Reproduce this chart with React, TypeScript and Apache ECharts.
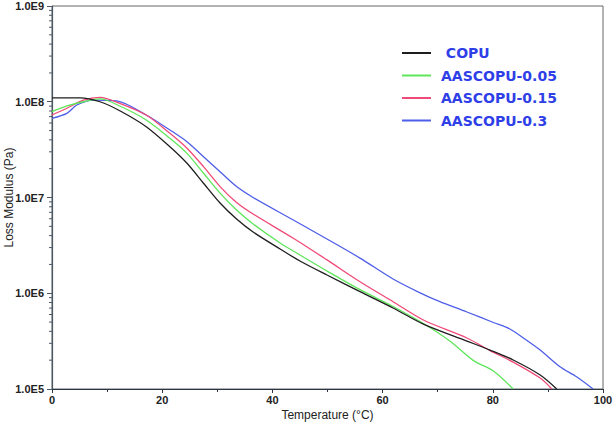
import React, { useEffect, useRef } from "react";
import * as echarts from "echarts";

// Temperature (°C) and loss modulus (Pa)
const copuT = [0, 5.1, 8.7, 12.3, 17.1, 21.4, 24.5, 27.5, 30.5, 33.5, 36.5, 41.4, 45.0, 49.9, 55.9, 61.9, 67.4, 75.3, 79.5, 83.7, 88.6, 91.6];
const copuV = [1.1e8, 1.1e8, 1.0e8, 8.06e7, 5.49e7, 3.39e7, 2.28e7, 1.41e7, 8.76e6, 5.96e6, 4.36e6, 2.9e6, 2.17e6, 1.55e6, 1.04e6, 7.02e5, 4.77e5, 3.17e5, 2.55e5, 2.01e5, 1.4e5, 1.0e5];

const a005T = [0, 2.7, 5.7, 8.7, 12.3, 17.1, 21.4, 24.5, 27.5, 30.5, 33.5, 36.5, 41.4, 45.0, 49.9, 55.9, 61.9, 67.4, 72.2, 76.5, 80.1, 83.7];
const a005V = [7.87e7, 9.03e7, 1.0e8, 1.07e8, 9.03e7, 6.45e7, 4.15e7, 2.89e7, 1.79e7, 1.11e7, 7.4e6, 5.29e6, 3.35e6, 2.51e6, 1.71e6, 1.09e6, 7.27e5, 4.83e5, 3.17e5, 1.98e5, 1.54e5, 1.0e5];

const a015T = [0, 2.7, 5.7, 8.7, 12.3, 17.1, 21.4, 24.5, 27.5, 30.5, 33.5, 36.5, 43.8, 49.9, 55.9, 61.9, 67.4, 75.3, 79.5, 83.7, 88.6, 90.7];
const a015V = [7.27e7, 8.55e7, 1.04e8, 1.11e8, 9.63e7, 7.27e7, 4.68e7, 3.27e7, 2.1e7, 1.3e7, 8.87e6, 6.72e6, 3.75e6, 2.23e6, 1.32e6, 8.16e5, 5.26e5, 3.41e5, 2.52e5, 1.91e5, 1.3e5, 1.0e5];

const a03T = [0, 2.7, 4.5, 7.5, 11.7, 17.1, 21.4, 24.5, 27.5, 30.5, 33.5, 36.5, 43.8, 49.9, 55.9, 61.9, 66.8, 70.4, 75.3, 80.1, 83.1, 85.8, 88.6, 92.2, 95.2, 98.2];
const a03V = [6.72e7, 7.57e7, 9.25e7, 1.04e8, 1.02e8, 7.27e7, 5.07e7, 3.83e7, 2.67e7, 1.86e7, 1.3e7, 1.0e7, 5.82e6, 3.69e6, 2.33e6, 1.41e6, 1.01e6, 8.16e5, 6.37e5, 4.95e5, 4.23e5, 3.33e5, 2.55e5, 1.71e5, 1.34e5, 1.0e5];

const seriesNames = ["COPU", "AASCOPU-0.05", "AASCOPU-0.15", "AASCOPU-0.3"];
const seriesColors = ["#1e1e1e", "#5ee65a", "#f04a78", "#4e5ee8"];

const xTicks = [0, 20, 40, 60, 80, 100];
const yMinorTicks: number[] = [];
for (let e = 5; e < 9; e++) {
  for (let m = 2; m <= 9; m++) yMinorTicks.push(m * Math.pow(10, e));
}

const zip = (t: number[], v: number[]) => t.map((x, i) => [x, v[i]]);

export default function App() {
  const ref = useRef<HTMLDivElement>(null);
  useEffect(() => {
    if (!ref.current) return;
    const chart = echarts.init(ref.current, undefined, { renderer: "svg" });
    const datasets = [zip(copuT, copuV), zip(a005T, a005V), zip(a015T, a015V), zip(a03T, a03V)];
    const axisFont = { fontFamily: "Liberation Sans", fontSize: 11, fontWeight: "bold" as const, color: "#222" };
    chart.setOption({
      animation: false,
      backgroundColor: "#fff",
      grid: {
        left: 52,
        right: 11,
        top: 6,
        bottom: 36,
        containLabel: false,
        outerBoundsMode: "none",
        show: true,
        borderColor: "#666",
        borderWidth: 1,
      },
      legend: {
        data: seriesNames,
        orient: "vertical",
        left: 397,
        top: 41,
        icon: "rect",
        itemWidth: 29,
        itemHeight: 2,
        itemGap: 8.5,
        formatter: (n: string) => (n === "COPU" ? " COPU" : n),
        textStyle: {
          fontFamily: "DejaVu Sans",
          fontSize: 14,
          fontWeight: "bold",
          color: "#2f3fe8",
          padding: [0, 0, 0, 5],
        },
      },
      xAxis: {
        type: "value",
        min: xTicks[0],
        max: xTicks[xTicks.length - 1],
        interval: 20,
        name: "Temperature (°C)",
        nameLocation: "middle",
        nameGap: 20,
        nameMoveOverlap: false,
        nameTextStyle: { fontFamily: "Liberation Sans", fontSize: 12, color: "#222" },
        axisLine: { lineStyle: { color: "#2a3644", width: 1.2 } },
        axisTick: { show: true, length: 4, lineStyle: { color: "#2a3644" } },
        minorTick: { show: true, splitNumber: 2, length: 3, lineStyle: { color: "#2a3644" } },
        axisLabel: { ...axisFont, margin: 5 },
        splitLine: { show: false },
      },
      yAxis: {
        type: "log",
        logBase: 10,
        min: 1e5,
        max: 1e9,
        interval: 1,
        name: "Loss Modulus (Pa)",
        nameLocation: "middle",
        nameGap: 37,
        nameMoveOverlap: false,
        nameTextStyle: { fontFamily: "Liberation Sans", fontSize: 12, color: "#222" },
        axisLine: { show: true, lineStyle: { color: "#4a5866", width: 1.2 } },
        axisTick: { show: true, length: 5, lineStyle: { color: "#4a5866" } },
        axisLabel: {
          ...axisFont,
          margin: 8,
          formatter: (v: number) => "1.0E" + Math.round(Math.log10(v)),
        },
        splitLine: { show: false },
      },
      series: [
        ...seriesNames.map((name, i) => ({
          name,
          type: "line",
          data: datasets[i],
          showSymbol: false,
          symbol: "none",
          smooth: 0.3,
          color: seriesColors[i],
          lineStyle: { width: 1.3, color: seriesColors[i] },
          z: 3 + (3 - i),
        })),
        {
          name: "minorTicks",
          type: "custom",
          silent: true,
          clip: false,
          data: yMinorTicks.map((v) => [0, v]),
          renderItem: (_p: any, api: any) => {
            const p = api.coord([api.value(0), api.value(1)]);
            return {
              type: "line",
              shape: { x1: p[0] - 3, y1: p[1], x2: p[0], y2: p[1] },
              style: { stroke: "#4a5866", lineWidth: 1 },
            };
          },
          z: 10,
        },
      ],
    });
    return () => chart.dispose();
  }, []);
  return <div ref={ref} style={{ position: "fixed", left: 0, top: 0, width: 614, height: 425 }} />;
}
